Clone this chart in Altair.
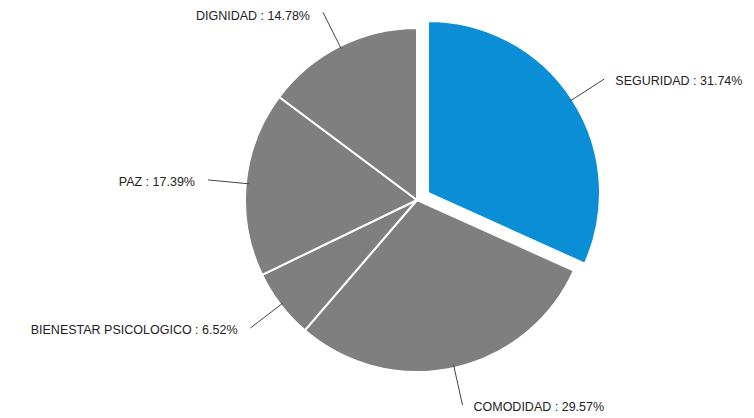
import altair as alt
import pandas as pd

categories = ["SEGURIDAD", "COMODIDAD", "BIENESTAR PSICOLOGICO", "PAZ", "DIGNIDAD"]
values = [31.74, 29.57, 6.52, 17.39, 14.78]
order = [1, 2, 3, 4, 5]

df = pd.DataFrame({"cat": categories, "value": values, "order": order})

CX, CY = 409, 192   # pie centre inside the view
R = 172             # pie radius
RL = 210            # leader line outer radius
EXPLODE = 13        # offset of the highlighted slice
HIGHLIGHT = "SEGURIDAD"

base = alt.Chart(df).transform_window(
    cum="sum(value)", sort=[{"field": "order"}], frame=[None, 0]
).transform_calculate(
    start="datum.cum - datum.value",
    end="datum.cum",
    mid="(datum.cum - datum.value/2) / 100 * 2 * PI",
    off=f"datum.cat == '{HIGHLIGHT}' ? {EXPLODE} : 0",
).transform_calculate(
    cx=f"{CX} + datum.off * sin(datum.mid)",
    cy=f"{CY} - datum.off * cos(datum.mid)",
).transform_calculate(
    x0=f"datum.cx + {R - 3} * sin(datum.mid)",
    y0=f"datum.cy - {R - 3} * cos(datum.mid)",
    x1=f"datum.cx + {RL} * sin(datum.mid)",
    y1=f"datum.cy - {RL} * cos(datum.mid)",
    label="datum.cat + ' : ' + format(datum.value, '.2f') + '%'",
    right="sin(datum.mid) > 0",
).transform_calculate(
    ly="clamp(datum.y1 + 2, 8, 400)",
)

theta_scale = alt.Scale(domain=[0, 100])

gray = base.transform_filter(f"datum.cat != '{HIGHLIGHT}'").mark_arc(
    color="#7f7f7f", stroke="white", strokeWidth=2, outerRadius=R
).encode(
    theta=alt.Theta("start:Q", stack=None, scale=theta_scale),
    theta2="end:Q",
    x=alt.value(CX), y=alt.value(CY),
)

blue = base.transform_filter(f"datum.cat == '{HIGHLIGHT}'").mark_arc(
    color="#0a8ed6", stroke="white", strokeWidth=2, outerRadius=R
).encode(
    theta=alt.Theta("start:Q", stack=None, scale=theta_scale),
    theta2="end:Q",
    x=alt.value(CX + 11), y=alt.value(CY - 7),
)

lines = base.mark_rule(color="#444444", strokeWidth=1).encode(
    x=alt.X("x0:Q", scale=None), y=alt.Y("y0:Q", scale=None),
    x2="x1:Q", y2="y1:Q",
)

text_right = base.transform_filter("datum.right").mark_text(
    align="left", baseline="middle", font="Liberation Sans", fontSize=12.5,
    color="#222222", dx=11,
).encode(
    x=alt.X("x1:Q", scale=None), y=alt.Y("ly:Q", scale=None), text="label:N"
)

text_left = base.transform_filter("!datum.right").mark_text(
    align="right", baseline="middle", font="Liberation Sans", fontSize=12.5,
    color="#222222", dx=-13,
).encode(
    x=alt.X("x1:Q", scale=None), y=alt.Y("ly:Q", scale=None), text="label:N"
)

chart = alt.layer(gray, blue, lines, text_right, text_left).properties(
    width=738, height=410, padding=0, autosize="none"
).configure_view(stroke=None)

chart.save("out.html", embed_options={"renderer": "svg", "actions": False})
